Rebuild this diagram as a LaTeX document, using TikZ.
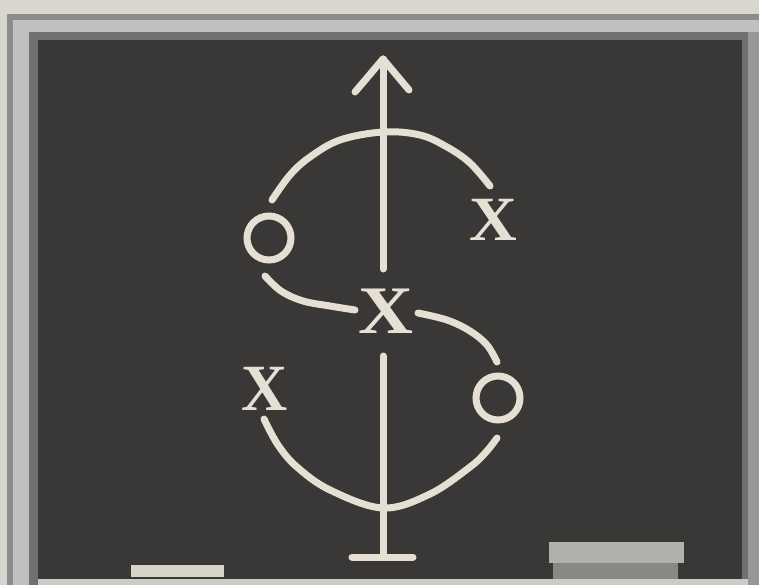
\documentclass[tikz,border=0pt]{standalone}
\usepackage{fontspec}
\newfontfamily\xfont{Liberation Serif}
\begin{document}
\begin{tikzpicture}[x=1pt,y=-1pt,
  chalk/.style={draw=chalkc,line width=7pt,line cap=round,line join=round},
  chalkmark/.style={text=chalkc,font=\xfont\bfseries\fontsize{68}{68}\selectfont,inner sep=0pt,anchor=center},
  oring/.style={draw=chalkc,line width=7pt,circle,minimum size=44pt,inner sep=0pt}]
\definecolor{chalkc}{HTML}{E6E0D4}
\definecolor{paperc}{HTML}{D9D6CF}
\definecolor{boardc}{HTML}{3A3836}
\useasboundingbox (0,0) rectangle (759,585);
% paper and frame
\fill[paperc] (0,0) rectangle (759,585);
\fill[fill={rgb,255:red,140;green,140;blue,140}] (7,14) rectangle (759,585);
\fill[fill={rgb,255:red,192;green,192;blue,192}] (13,20) rectangle (759,585);
\fill[fill={rgb,255:red,112;green,112;blue,112}] (29,32) rectangle (748,585);
\fill[fill={rgb,255:red,150;green,150;blue,150}] (748,32) rectangle (759,585);
\fill[boardc] (38,40) rectangle (742,579);
% chalk tray
\fill[fill={rgb,255:red,205;green,203;blue,198}] (38,579) rectangle (748,585);
% chalk piece and eraser
\fill[fill={rgb,255:red,216;green,212;blue,204}] (131,565) rectangle (224,577);
\fill[fill={rgb,255:red,178;green,176;blue,172}] (549,542) rectangle (684,563);
\fill[fill={rgb,255:red,138;green,136;blue,132}] (553,563) rectangle (678,579);
% marks
\node[chalkmark,xscale=1.12] (xc) at (386,311) {X};
\node[chalkmark,xscale=1.05,font=\xfont\bfseries\fontsize{63}{63}\selectfont] (xur) at (493,220) {X};
\node[chalkmark,xscale=0.97,font=\xfont\bfseries\fontsize{66}{66}\selectfont] (xll) at (265,389) {X};
\node[oring] (oul) at (269,238) {};
\node[oring] (olr) at (498,398) {};
% vertical stroke with arrow
\coordinate (tip) at (383,59);
\coordinate (armL) at (355,92);
\coordinate (armR) at (409,90);
\coordinate (topend) at (383,269);
\coordinate (lowstart) at (383,356);
\coordinate (lowend) at (383,556);
\coordinate (barL) at (352,557);
\coordinate (barR) at (413,557);
\draw[chalk] (tip) -- (topend);
\draw[chalk] (armL) -- (tip) -- (armR);
\draw[chalk] (lowstart) -- (lowend);
\draw[chalk] (barL) -- (barR);
% upper arc
\draw[chalk] plot[smooth,tension=0.6] coordinates {(272,200) (290,175) (310,157) (340,140) (383,132) (420,135) (447,147) (470,163) (490,186)};
% S middle curves
\draw[chalk] plot[smooth,tension=0.6] coordinates {(265,276) (281,291) (303,301) (330,306) (355,310)};
\draw[chalk] plot[smooth,tension=0.6] coordinates {(418,313) (447,320) (470,331) (487,345) (497,362)};
% lower arc
\draw[chalk] plot[smooth,tension=0.6] coordinates {(264,419) (278,445) (297,467) (330,490) (383,508) (430,494) (470,467) (486,452) (497,438)};
\end{tikzpicture}
\end{document}
